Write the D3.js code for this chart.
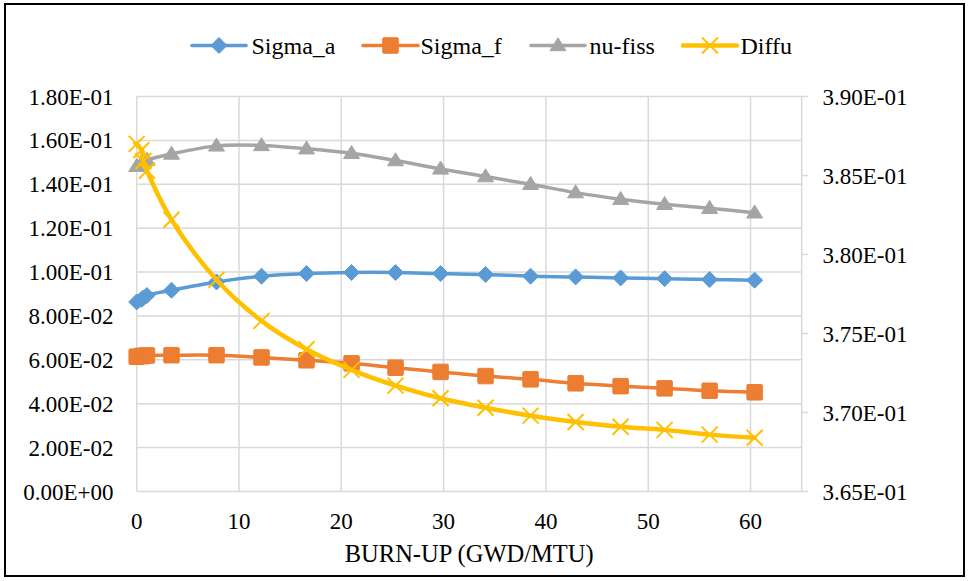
<!DOCTYPE html>
<html>
<head>
<meta charset="utf-8">
<script src="https://cdn.jsdelivr.net/npm/d3@7"></script>
</head>
<body style="margin:0">
<svg id="chart" width="970" height="581"></svg>
<script>
// Burn-up points (GWD/MTU)
const burnup = [0, 0.45, 0.65, 1.0, 3.4, 7.8, 12.2, 16.6, 21.0, 25.3, 29.7, 34.1, 38.5, 42.9, 47.3, 51.6, 56.0, 60.4];

// Cross sections (left axis)
const sigmaA = [0.0864, 0.0875, 0.0882, 0.0893, 0.0917, 0.0955, 0.0981, 0.0993, 0.0998, 0.0998, 0.0993, 0.0989, 0.0981, 0.0978, 0.0973, 0.0970, 0.0966, 0.0963];
const sigmaF = [0.0614, 0.0617, 0.0618, 0.0620, 0.0621, 0.0621, 0.0611, 0.0598, 0.0584, 0.0564, 0.0545, 0.0526, 0.0511, 0.0493, 0.0480, 0.0470, 0.0459, 0.0452];
const nuFiss = [0.1482, 0.1494, 0.1500, 0.1510, 0.1538, 0.1575, 0.1577, 0.1562, 0.1541, 0.1508, 0.1470, 0.1435, 0.1400, 0.1362, 0.1332, 0.1309, 0.1291, 0.1270];

// Diffusion coefficient (right axis)
const diffu = [0.3870, 0.3866, 0.3859, 0.3853, 0.3822, 0.3784, 0.3758, 0.3740, 0.3727, 0.3717, 0.3709, 0.3703, 0.3698, 0.3694, 0.3691, 0.3689, 0.3686, 0.3684];

const xTicks = [0, 10, 20, 30, 40, 50, 60];
const leftTicks = [0, 0.02, 0.04, 0.06, 0.08, 0.10, 0.12, 0.14, 0.16, 0.18];
const rightTicks = [0.365, 0.370, 0.375, 0.380, 0.385, 0.390];

const svg = d3.select("#chart");
const plot = { left: 136.7, right: 801.7, top: 96.5, bottom: 491.5 };

// outer frame
svg.append("rect")
  .attr("x", 5).attr("y", 4).attr("width", 959).attr("height", 572)
  .attr("fill", "#fff").attr("stroke", "#000").attr("stroke-width", 2);

const x = d3.scaleLinear().domain([0, 65]).range([plot.left, plot.right]);
const yL = d3.scaleLinear().domain([0, 0.18]).range([plot.bottom, plot.top]);
const yR = d3.scaleLinear().domain([0.365, 0.390]).range([plot.bottom, plot.top]);

const grid = svg.append("g").attr("stroke", "#d9d9d9").attr("stroke-width", 1.5);
// horizontal gridlines
grid.selectAll("line.h").data(leftTicks).join("line")
  .attr("x1", plot.left).attr("x2", plot.right)
  .attr("y1", d => yL(d)).attr("y2", d => yL(d));
// vertical gridlines
grid.selectAll("line.v").data(xTicks).join("line")
  .attr("x1", d => x(d)).attr("x2", d => x(d))
  .attr("y1", plot.top).attr("y2", plot.bottom);
// right axis line and ticks
grid.append("line")
  .attr("x1", plot.right).attr("x2", plot.right)
  .attr("y1", plot.top).attr("y2", plot.bottom);
grid.selectAll("line.rt").data(rightTicks).join("line")
  .attr("x1", plot.right).attr("x2", plot.right + 6.5)
  .attr("y1", d => yR(d)).attr("y2", d => yR(d));

// scientific tick format, e.g. 1.80E-01
const fmtE = v => {
  if (v === 0) return "0.00E+00";
  const e = Math.floor(Math.log10(Math.abs(v)) + 1e-9);
  const m = v / Math.pow(10, e);
  const es = (e < 0 ? "-" : "+") + String(Math.abs(e)).padStart(2, "0");
  return m.toFixed(2) + "E" + es;
};

// serif labels, set through the font shorthand
function serif(sel, size) {
  return sel
    .attr("font-family", "Liberation Serif")
    .style("font", `${size}px "Liberation Serif", Tinos, "Times New Roman", serif`);
}

svg.append("g").selectAll("text").data(leftTicks).join("text")
  .call(serif, 23)
  .attr("x", 113.5).attr("y", d => yL(d) + 8)
  .attr("text-anchor", "end")
  .text(fmtE);
svg.append("g").selectAll("text").data(rightTicks).join("text")
  .call(serif, 23)
  .attr("x", 822.5).attr("y", d => yR(d) + 8)
  .attr("text-anchor", "start")
  .text(fmtE);
svg.append("g").selectAll("text").data(xTicks).join("text")
  .call(serif, 23)
  .attr("x", d => x(d)).attr("y", 529)
  .attr("text-anchor", "middle")
  .text(d => d);
svg.append("text")
  .call(serif, 24.5)
  .attr("x", (plot.left + plot.right) / 2).attr("y", 561.5)
  .attr("text-anchor", "middle")
  .text("BURN-UP (GWD/MTU)");

// series definitions
const series = [
  { name: "Sigma_a", values: sigmaA, y: yL, color: "#5B9BD5", width: 3.5, marker: "diamond" },
  { name: "Sigma_f", values: sigmaF, y: yL, color: "#ED7D31", width: 3.5, marker: "square" },
  { name: "nu-fiss", values: nuFiss, y: yL, color: "#A5A5A5", width: 3.5, marker: "triangle" },
  { name: "Diffu", values: diffu, y: yR, color: "#FFC000", width: 4.5, marker: "x" }
];

function drawMarker(g, type, color, cx, cy) {
  if (type === "diamond") {
    const r = 8;
    g.append("path").attr("d", `M${cx},${cy - r}L${cx + r},${cy}L${cx},${cy + r}L${cx - r},${cy}Z`)
      .attr("fill", color).attr("stroke", color).attr("stroke-width", 1);
  } else if (type === "square") {
    const s = 15.5;
    g.append("rect").attr("x", cx - s / 2).attr("y", cy - s / 2).attr("width", s).attr("height", s)
      .attr("fill", color).attr("stroke", color).attr("stroke-width", 1).attr("rx", 1);
  } else if (type === "triangle") {
    const w = 16, h = 13;
    g.append("path").attr("d", `M${cx},${cy - h * 0.6}L${cx + w / 2},${cy + h * 0.4}L${cx - w / 2},${cy + h * 0.4}Z`)
      .attr("fill", color).attr("stroke", color).attr("stroke-width", 1);
  } else if (type === "x") {
    const r = 8;
    g.append("path").attr("d", `M${cx - r},${cy - r}L${cx + r},${cy + r}M${cx - r},${cy + r}L${cx + r},${cy - r}`)
      .attr("fill", "none").attr("stroke", color).attr("stroke-width", 2);
  }
}

const lines = svg.append("g");
series.forEach(s => {
  const pts = burnup.map((b, i) => [b, s.values[i]]);
  const line = d3.line()
    .x(d => x(d[0])).y(d => s.y(d[1]))
    .curve(d3.curveCatmullRom.alpha(0.5));
  const g = lines.append("g");
  g.append("path").attr("d", line(pts))
    .attr("fill", "none").attr("stroke", s.color)
    .attr("stroke-width", s.width).attr("stroke-linejoin", "round").attr("stroke-linecap", "round");
  pts.forEach(p => drawMarker(g, s.marker, s.color, x(p[0]), s.y(p[1])));
});

// legend
const legendItems = [
  { x0: 192, x1: 246, tx: 251.5 },
  { x0: 363, x1: 418, tx: 420.5 },
  { x0: 531, x1: 585, tx: 589.5 },
  { x0: 683, x1: 737, tx: 740.5 }
];
const legendY = 45.5;
const lg = svg.append("g");
series.forEach((s, i) => {
  const it = legendItems[i];
  const g = lg.append("g");
  g.append("line").attr("x1", it.x0).attr("x2", it.x1).attr("y1", legendY).attr("y2", legendY)
    .attr("stroke", s.color).attr("stroke-width", s.width).attr("stroke-linecap", "round");
  drawMarker(g, s.marker, s.color, (it.x0 + it.x1) / 2, legendY);
  g.append("text").call(serif, 24)
    .attr("x", it.tx).attr("y", legendY + 8)
    .text(s.name);
});
</script>
</body>
</html>
